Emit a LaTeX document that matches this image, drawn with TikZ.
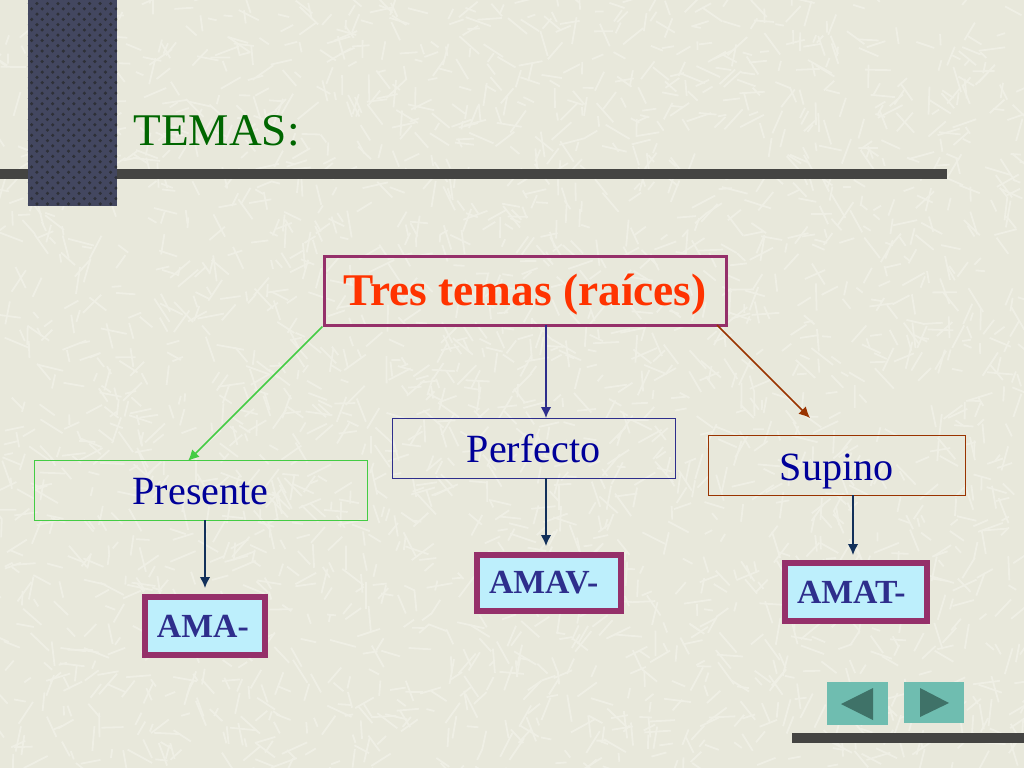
\documentclass[tikz,border=0pt]{standalone}
\usepackage{fontspec}
\setmainfont{Liberation Serif}
\usetikzlibrary{arrows.meta, positioning, patterns}
\definecolor{paper}{HTML}{E8E8DB}
\definecolor{fleck}{HTML}{EFEFE5}
\definecolor{pillar}{HTML}{434760}
\definecolor{grain}{HTML}{2E3038}
\definecolor{bar}{HTML}{444442}
\definecolor{plum}{HTML}{95306A}
\definecolor{ice}{HTML}{BDEFFC}
\definecolor{navy}{HTML}{2E2E8C}
\definecolor{deepblue}{HTML}{000099}
\definecolor{inkblue}{HTML}{12305A}
\definecolor{scarlet}{HTML}{FF3300}
\definecolor{leaf}{HTML}{44CC44}
\definecolor{rust}{HTML}{993300}
\definecolor{teal}{HTML}{6FBDB0}
\definecolor{tealdark}{HTML}{3F7268}
\begin{document}
\begin{tikzpicture}[
        topbox/.style={rectangle, draw=plum, line width=0.03cm, minimum width=4.02cm, minimum height=0.69cm, inner sep=0pt, text height=0.29cm, text depth=0pt, text=scarlet, font=\fontsize{12.9}{15}\selectfont\bfseries},
        branch/.style={rectangle, line width=0.01cm, minimum height=0.6cm, inner sep=0pt, text depth=0pt, text=deepblue, font=\fontsize{11.4}{13}\selectfont},
        stem/.style={rectangle, draw=plum, fill=ice, line width=0.06cm, inner xsep=0.12cm, inner ysep=0pt, align=left, text=navy, font=\fontsize{9.6}{11}\selectfont\bfseries},
        link/.style={line width=0.015cm, -{Latex[length=1.1mm, width=1.05mm]}}
    ]

    % fondo
    \fill[paper] (0,0) rectangle (10.24,-7.68);
    \useasboundingbox (0,0) rectangle (10.24,-7.68);
    \pgfmathsetseed{7}
    \foreach \i in {1,...,2600} {
        \pgfmathsetmacro{\px}{rnd*10.24}
        \pgfmathsetmacro{\py}{-rnd*7.68}
        \pgfmathsetmacro{\ang}{rnd*360}
        \pgfmathsetmacro{\len}{0.08+rnd*0.2}
        \draw[fleck, line width=0.018cm] (\px,\py) -- ++(\ang:\len);
    }

    % barras y columna
    \fill[bar] (0,-1.69) rectangle (9.47,-1.79);
    \fill[bar] (7.92,-7.33) rectangle (10.24,-7.43);
    \fill[pillar] (0.28,0) rectangle (1.17,-2.06);
    \fill[pattern=crosshatch dots, pattern color=grain] (0.28,0) rectangle (1.17,-2.06);

    % titulo
    \node[anchor=west, text=green!40!black, font=\fontsize{12.9}{15}\selectfont] (title) at (1.21,-1.31) {TEMAS:};

    % cajas
    \node[topbox] (tres) at (5.25,-2.905) {Tres temas (raíces)};
    \node[branch, draw=leaf, minimum width=3.33cm, text height=0.27cm] (presente) at (2.005,-4.905) {Presente};
    \node[branch, draw=navy, minimum width=2.83cm, text height=0.28cm] (perfecto) at (5.335,-4.48) {Perfecto};
    \node[branch, draw=rust, minimum width=2.57cm, text height=0.30cm] (supino) at (8.365,-4.65) {Supino};

    % raices
    \node[stem, text width=0.96cm, minimum height=0.58cm] (ama) at (2.05,-6.26) {AMA-};
    \node[stem, text width=1.2cm, minimum height=0.56cm] (amav) at (5.49,-5.83) {AMAV-};
    \node[stem, text width=1.18cm, minimum height=0.58cm] (amat) at (8.56,-5.92) {AMAT-};

    % extremos libres
    \coordinate (presentetip) at (1.88,-4.61);
    \coordinate (perfectotip) at (5.46,-4.18);
    \coordinate (supinotip) at (8.10,-4.18);
    \coordinate (tresright) at (7.17,-3.25);
    \coordinate (tresmid) at (5.46,-3.25);
    \coordinate (presentefoot) at (2.05,-5.20);
    \coordinate (perfectofoot) at (5.46,-4.78);
    \coordinate (supinofoot) at (8.53,-4.95);
    \coordinate (amatop) at (2.05,-5.88);
    \coordinate (amavtop) at (5.46,-5.46);
    \coordinate (amattop) at (8.53,-5.55);

    % flechas
    \draw[link, leaf] (tres.south west) -- (presentetip);
    \draw[link, navy] (tresmid) -- (perfectotip);
    \draw[link, rust] (tresright) -- (supinotip);
    \draw[link, inkblue] (presentefoot) -- (amatop);
    \draw[link, inkblue] (perfectofoot) -- (amavtop);
    \draw[link, inkblue] (supinofoot) -- (amattop);

    % botones
    \fill[teal] (8.27,-6.82) rectangle (8.88,-7.25);
    \fill[teal] (9.04,-6.82) rectangle (9.64,-7.23);
    \fill[tealdark] (8.41,-7.04) -- (8.73,-6.88) -- (8.73,-7.20) -- cycle;
    \fill[tealdark] (9.20,-6.88) -- (9.49,-7.03) -- (9.20,-7.17) -- cycle;

\end{tikzpicture}
\end{document}
